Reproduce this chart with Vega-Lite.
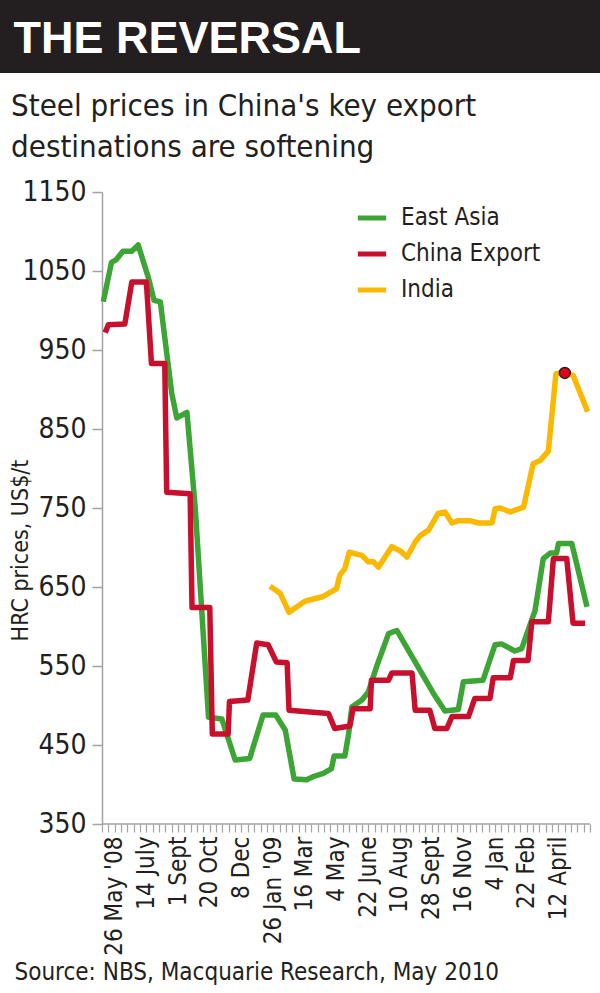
{
  "$schema": "https://vega.github.io/schema/vega-lite/v6.json",
  "padding": 0,
  "spacing": 18,
  "background": "white",
  "config": {"view": {"stroke": null}, "font": "Liberation Sans Narrow, DejaVu Sans Condensed, sans-serif"},
  "datasets": {
    "prices": [
      {"series": "East Asia", "t": 0.2, "price": 1011},
      {"series": "East Asia", "t": 1.5, "price": 1061},
      {"series": "East Asia", "t": 2.2, "price": 1064},
      {"series": "East Asia", "t": 3.3, "price": 1075},
      {"series": "East Asia", "t": 4.7, "price": 1075},
      {"series": "East Asia", "t": 5.7, "price": 1083},
      {"series": "East Asia", "t": 7.3, "price": 1042},
      {"series": "East Asia", "t": 8.2, "price": 1013},
      {"series": "East Asia", "t": 9.2, "price": 1011},
      {"series": "East Asia", "t": 11.0, "price": 895},
      {"series": "East Asia", "t": 11.8, "price": 864},
      {"series": "East Asia", "t": 13.4, "price": 871},
      {"series": "East Asia", "t": 14.7, "price": 751},
      {"series": "East Asia", "t": 16.8, "price": 485},
      {"series": "East Asia", "t": 18.9, "price": 483},
      {"series": "East Asia", "t": 21.0, "price": 431},
      {"series": "East Asia", "t": 23.3, "price": 433},
      {"series": "East Asia", "t": 25.4, "price": 488},
      {"series": "East Asia", "t": 27.4, "price": 488},
      {"series": "East Asia", "t": 28.9, "price": 469},
      {"series": "East Asia", "t": 30.3, "price": 407},
      {"series": "East Asia", "t": 32.3, "price": 406},
      {"series": "East Asia", "t": 33.3, "price": 410},
      {"series": "East Asia", "t": 34.9, "price": 414},
      {"series": "East Asia", "t": 36.2, "price": 420},
      {"series": "East Asia", "t": 36.6, "price": 436},
      {"series": "East Asia", "t": 38.3, "price": 436},
      {"series": "East Asia", "t": 38.9, "price": 464},
      {"series": "East Asia", "t": 39.4, "price": 498},
      {"series": "East Asia", "t": 41.0, "price": 507},
      {"series": "East Asia", "t": 42.0, "price": 517},
      {"series": "East Asia", "t": 43.3, "price": 549},
      {"series": "East Asia", "t": 45.2, "price": 591},
      {"series": "East Asia", "t": 46.5, "price": 595},
      {"series": "East Asia", "t": 52.3, "price": 515},
      {"series": "East Asia", "t": 54.1, "price": 493},
      {"series": "East Asia", "t": 56.2, "price": 495},
      {"series": "East Asia", "t": 57.0, "price": 530},
      {"series": "East Asia", "t": 60.1, "price": 532},
      {"series": "East Asia", "t": 62.0, "price": 577},
      {"series": "East Asia", "t": 63.0, "price": 578},
      {"series": "East Asia", "t": 65.1, "price": 569},
      {"series": "East Asia", "t": 66.2, "price": 572},
      {"series": "East Asia", "t": 67.2, "price": 595},
      {"series": "East Asia", "t": 68.3, "price": 620},
      {"series": "East Asia", "t": 69.6, "price": 686},
      {"series": "East Asia", "t": 70.7, "price": 693},
      {"series": "East Asia", "t": 71.7, "price": 693},
      {"series": "East Asia", "t": 72.0, "price": 705},
      {"series": "East Asia", "t": 74.1, "price": 705},
      {"series": "East Asia", "t": 76.5, "price": 625},
      {"series": "China Export", "t": 0.5, "price": 972},
      {"series": "China Export", "t": 1.0, "price": 982},
      {"series": "China Export", "t": 3.6, "price": 983},
      {"series": "China Export", "t": 4.7, "price": 1036},
      {"series": "China Export", "t": 7.0, "price": 1036},
      {"series": "China Export", "t": 7.8, "price": 933},
      {"series": "China Export", "t": 9.9, "price": 933},
      {"series": "China Export", "t": 10.2, "price": 770},
      {"series": "China Export", "t": 13.9, "price": 768},
      {"series": "China Export", "t": 14.2, "price": 624},
      {"series": "China Export", "t": 17.0, "price": 624},
      {"series": "China Export", "t": 17.4, "price": 464},
      {"series": "China Export", "t": 19.9, "price": 464},
      {"series": "China Export", "t": 20.1, "price": 505},
      {"series": "China Export", "t": 23.0, "price": 507},
      {"series": "China Export", "t": 24.4, "price": 579},
      {"series": "China Export", "t": 26.2, "price": 577},
      {"series": "China Export", "t": 27.5, "price": 555},
      {"series": "China Export", "t": 29.2, "price": 554},
      {"series": "China Export", "t": 29.5, "price": 494},
      {"series": "China Export", "t": 35.7, "price": 490},
      {"series": "China Export", "t": 36.7, "price": 471},
      {"series": "China Export", "t": 39.1, "price": 474},
      {"series": "China Export", "t": 39.6, "price": 496},
      {"series": "China Export", "t": 42.3, "price": 496},
      {"series": "China Export", "t": 42.5, "price": 532},
      {"series": "China Export", "t": 45.2, "price": 532},
      {"series": "China Export", "t": 45.7, "price": 541},
      {"series": "China Export", "t": 48.9, "price": 541},
      {"series": "China Export", "t": 49.4, "price": 494},
      {"series": "China Export", "t": 51.7, "price": 494},
      {"series": "China Export", "t": 52.5, "price": 471},
      {"series": "China Export", "t": 54.4, "price": 471},
      {"series": "China Export", "t": 55.2, "price": 486},
      {"series": "China Export", "t": 57.8, "price": 486},
      {"series": "China Export", "t": 58.8, "price": 509},
      {"series": "China Export", "t": 61.2, "price": 509},
      {"series": "China Export", "t": 61.7, "price": 535},
      {"series": "China Export", "t": 64.4, "price": 535},
      {"series": "China Export", "t": 64.9, "price": 557},
      {"series": "China Export", "t": 67.2, "price": 557},
      {"series": "China Export", "t": 67.8, "price": 606},
      {"series": "China Export", "t": 70.4, "price": 606},
      {"series": "China Export", "t": 71.2, "price": 686},
      {"series": "China Export", "t": 73.3, "price": 686},
      {"series": "China Export", "t": 74.3, "price": 604},
      {"series": "China Export", "t": 76.2, "price": 604},
      {"series": "India", "t": 26.5, "price": 651},
      {"series": "India", "t": 28.1, "price": 642},
      {"series": "India", "t": 29.5, "price": 618},
      {"series": "India", "t": 32.0, "price": 632},
      {"series": "India", "t": 34.9, "price": 638},
      {"series": "India", "t": 36.2, "price": 644},
      {"series": "India", "t": 37.0, "price": 648},
      {"series": "India", "t": 37.5, "price": 665},
      {"series": "India", "t": 38.3, "price": 673},
      {"series": "India", "t": 39.0, "price": 694},
      {"series": "India", "t": 41.0, "price": 690},
      {"series": "India", "t": 42.0, "price": 682},
      {"series": "India", "t": 42.8, "price": 682},
      {"series": "India", "t": 43.6, "price": 675},
      {"series": "India", "t": 45.7, "price": 701},
      {"series": "India", "t": 47.0, "price": 696},
      {"series": "India", "t": 48.1, "price": 688},
      {"series": "India", "t": 49.4, "price": 707},
      {"series": "India", "t": 50.2, "price": 715},
      {"series": "India", "t": 51.5, "price": 722},
      {"series": "India", "t": 53.0, "price": 743},
      {"series": "India", "t": 54.1, "price": 745},
      {"series": "India", "t": 55.2, "price": 731},
      {"series": "India", "t": 56.2, "price": 734},
      {"series": "India", "t": 58.0, "price": 734},
      {"series": "India", "t": 59.4, "price": 731},
      {"series": "India", "t": 61.5, "price": 731},
      {"series": "India", "t": 62.0, "price": 749},
      {"series": "India", "t": 62.8, "price": 750},
      {"series": "India", "t": 64.4, "price": 745},
      {"series": "India", "t": 66.5, "price": 751},
      {"series": "India", "t": 68.0, "price": 806},
      {"series": "India", "t": 69.1, "price": 810},
      {"series": "India", "t": 70.4, "price": 822},
      {"series": "India", "t": 71.6, "price": 920},
      {"series": "India", "t": 73.0, "price": 921},
      {"series": "India", "t": 74.3, "price": 918},
      {"series": "India", "t": 76.6, "price": 872}
    ],
    "peak": [{"series": "India", "t": 73.0, "price": 921}],
    "baseline": [{"t": 0, "t2": 77, "price": 350}],
    "header": [{"h": "THE REVERSAL"}]
  },
  "vconcat": [
    {
      "width": 600,
      "height": 73,
      "view": {"fill": "#231f20", "stroke": null},
      "data": {"name": "header"},
      "mark": {"type": "text", "align": "left", "baseline": "middle", "font": "Liberation Sans, Arial, sans-serif", "fontWeight": "bold", "fontSize": 45, "color": "white", "dy": 2},
      "encoding": {
        "text": {"field": "h"},
        "x": {"datum": 0, "type": "quantitative", "scale": {"domain": [-0.9, 39.1]}, "axis": null}
      }
    },
    {
      "width": 600,
      "height": 632,
      "title": {
        "text": ["Steel prices in China's key export", "destinations are softening"],
        "anchor": "start",
        "frame": "group",
        "dx": 11,
        "fontSize": 31,
        "lineHeight": 41,
        "font": "Liberation Sans Narrow, DejaVu Sans Condensed, sans-serif",
        "fontWeight": "normal",
        "color": "#231f20",
        "offset": 14
      },
      "encoding": {
        "x": {
          "field": "t",
          "type": "quantitative",
          "scale": {"domain": [-16.09, 78.55], "nice": false, "zero": false},
          "axis": {
            "values": [0,1,2,3,4,5,6,7,8,9,10,11,12,13,14,15,16,17,18,19,20,21,22,23,24,25,26,27,28,29,30,31,32,33,34,35,36,37,38,39,40,41,42,43,44,45,46,47,48,49,50,51,52,53,54,55,56,57,58,59,60,61,62,63,64,65,66,67,68,69,70,71,72,73,74,75,76,77],
            "labelExpr": "datum.value % 5 == 2 ? [\"26 May '08\",\"14 July\",\"1 Sept\",\"20 Oct\",\"8 Dec\",\"26 Jan '09\",\"16 Mar\",\"4 May\",\"22 June\",\"10 Aug\",\"28 Sept\",\"16 Nov\",\"4 Jan\",\"22 Feb\",\"12 April\"][(datum.value - 2) / 5] : ''",
            "labelAngle": 270,
            "labelOverlap": false,
            "domain": false,
            "grid": false,
            "tickColor": "#a3a3a3",
            "tickSize": 8,
            "tickWidth": 1.2,
            "labelFontSize": 24,
            "labelColor": "#231f20",
            "labelPadding": 4,
            "title": "Source: NBS, Macquarie Research, May 2010",
            "titleAnchor": "start",
            "titleAlign": "left",
            "titleX": 14,
            "titleFontSize": 24,
            "titleFontWeight": "normal",
            "titleColor": "#231f20",
            "titlePadding": 5
          }
        },
        "y": {
          "field": "price",
          "type": "quantitative",
          "scale": {"domain": [350, 1150], "nice": false, "zero": false},
          "axis": {
            "values": [350, 450, 550, 650, 750, 850, 950, 1050, 1150],
            "format": "d",
            "offset": -102,
            "grid": false,
            "domainColor": "#a3a3a3",
            "domainWidth": 1.5,
            "tickColor": "#a3a3a3",
            "tickSize": 10,
            "tickWidth": 1.5,
            "labelFontSize": 28,
            "labelColor": "#231f20",
            "labelPadding": 6,
            "title": "HRC prices, US$/t",
            "titleFontSize": 23,
            "titleFontWeight": "normal",
            "titleColor": "#231f20",
            "titleX": -70,
            "titleY": 358
          }
        }
      },
      "layer": [
        {
          "data": {"name": "baseline"},
          "mark": {"type": "rule", "color": "#a3a3a3", "strokeWidth": 1.5},
          "encoding": {
            "x2": {"field": "t2"}
          }
        },
        {
          "data": {"name": "prices"},
          "mark": {"type": "line", "strokeWidth": 5.5, "strokeJoin": "round", "strokeCap": "butt"},
          "encoding": {
            "color": {
              "field": "series",
              "type": "nominal",
              "scale": {"domain": ["East Asia", "China Export", "India"], "range": ["#3ca535", "#c8102e", "#fbb800"]},
              "legend": {
                "title": null,
                "orient": "none",
                "legendX": 355,
                "legendY": 201,
                "padding": 0,
                "symbolType": "stroke",
                "symbolStrokeWidth": 5,
                "symbolSize": 800,
                "labelFontSize": 24,
                "labelColor": "#231f20",
                "labelOffset": 12,
                "rowPadding": 7
              }
            }
          }
        },
        {
          "data": {"name": "peak"},
          "mark": {"type": "point", "filled": true, "fill": "#e3001b", "stroke": "#231f20", "strokeWidth": 1.5, "size": 120, "opacity": 1},
          "encoding": {}
        }
      ]
    }
  ]
}
